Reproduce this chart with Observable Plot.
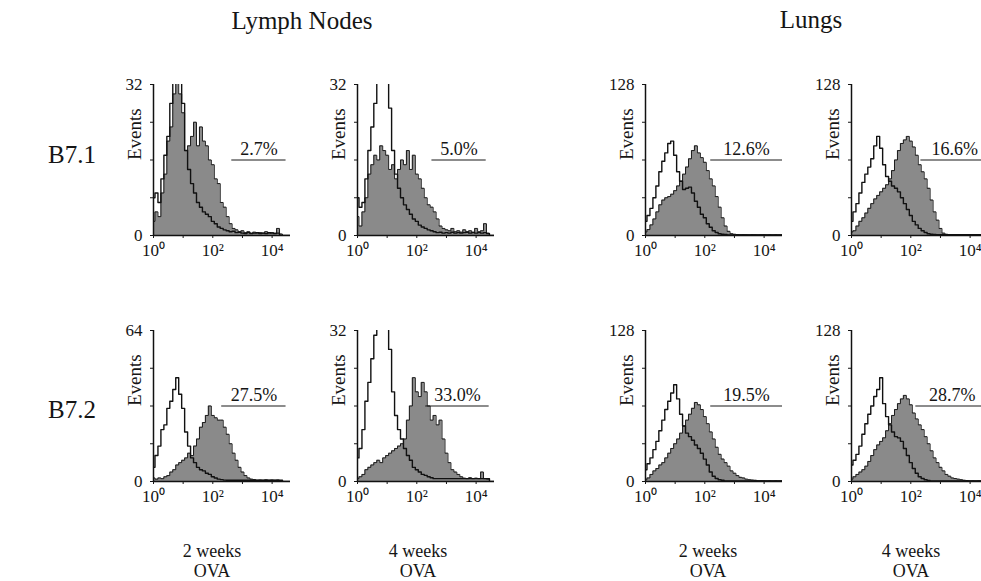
<!DOCTYPE html>
<html><head><meta charset="utf-8">
<script src="https://cdn.jsdelivr.net/npm/d3@7"></script>
<script src="https://cdn.jsdelivr.net/npm/@observablehq/plot@0.6"></script>
<style>
html,body{margin:0;padding:0;background:#fff;overflow:hidden}
#fig{position:relative;width:981px;height:581px;overflow:hidden;font-family:"Liberation Serif","Times New Roman",serif;color:#151515}
.lbl{position:absolute;white-space:nowrap;line-height:1}
.ctr{transform:translateX(-50%);text-align:center}
.panel{position:absolute}
</style></head><body><div id="fig"></div>
<script>
// ---------- DATA ----------
// fluorescence bins (log10 of intensity), 0.1-decade steps
const logBins = [0.0,0.1,0.2,0.3,0.4,0.5,0.6,0.7,0.8,0.9,1.0,1.1,1.2,1.3,1.4,1.5,1.6,1.7,1.8,1.9,2.0,2.1,2.2,2.3,2.4,2.5,2.6,2.7,2.8,2.9,3.0,3.1,3.2,3.3,3.4,3.5,3.6,3.7,3.8,3.9,4.0,4.1,4.2,4.3,4.4,4.5,4.6];

const columnTitles = ["Lymph Nodes", "Lungs"];
const rowTitles = ["B7.1", "B7.2"];
const columnLabels = [["2 weeks","OVA"],["4 weeks","OVA"],["2 weeks","OVA"],["4 weeks","OVA"]];
const yAxisLabel = "Events";

// panel order: B7.1 LN 2w, LN 4w, Lung 2w, Lung 4w, B7.2 LN 2w, LN 4w, Lung 2w, Lung 4w
const yMax = [32, 32, 128, 128, 64, 32, 128, 128];
const percentLabels = ["2.7%", "5.0%", "12.6%", "16.6%", "27.5%", "33.0%", "19.5%", "28.7%"];
const gateStartLog = [2.64, 2.51, 2.2, 2.34, 2.3, 2.3, 2.2, 2.17];
const gateEndLog   = [4.47, 4.34, 4.62, 4.62, 4.47, 4.44, 4.62, 4.62];

// stained (grey filled) histograms
const stainedLN2wB71 = [3,5,4,9,13,20,23,30,34,30, 26,18,19,21,24,19,23,20,19,16, 15,12,11,7,6,4,2.5,1.5,1.2,0.8, 1,0.6,0.8,0.5,0.7,0.5,0.6,0.5,0.8,0.5, 0.6,0.5,1.5,0.3,0,0,0];
const stainedLN4wB71 = [4,2,5,8,13,15,17,16,19,18, 17,14,15,12,14,16,15,18,14,17, 13,12,10,8,6.5,6,5,3.5,2,1.5, 1.2,1,1.5,0.8,1,0.7,1.2,0.8,1,0.7, 1.5,0.8,1,2.5,0.5,0,0];
const stainedLu2wB71 = [3,5,9,14,20,26,30,32,33,35, 38,42,46,52,58,65,72,76,70,66, 62,55,48,42,33,24,15,8,3.5,1.5, 1,0.8,0.6,0.7,0.6,0.5,0.7,0.6,0.5,0.6, 0.7,0.5,0.6,0.5,0.6,0.5,0.6];
const stainedLu4wB71 = [3,4,8,12,15,19,23,27,31,34, 37,40,43,48,55,64,72,78,81,84, 80,75,68,60,54,48,40,30,20,13, 6,2,1,0.6,0.7,0.6,0.5,0.6,0.7,0.6, 0.5,0.6,0.6,0.5,0.6,0.5,0.6];
const stainedLN2wB72 = [1.5,1,1.5,1.2,2,2.5,4,5,7,8, 9,10,12,11,15,18,23,25,28,32, 28,27,26,26,23,20,16,12,9,6, 4,2.5,1.5,1,0.8,0.5,0.6,0.5,0.7,0.5, 0.6,0.5,0.6,0.4,0,0,0];
const stainedLN4wB72 = [0.6,1,1.5,2.5,3,3.5,4,4.5,4,5, 5.5,6,6.5,7,7.5,8,9,13,16,22, 19,18,21,19,16,13,14,12,13,9, 6,4,2.5,2,1.5,1,0.7,0.6,0.8,0.6, 0.7,0.6,2,0.6,0.5,0,0];
const stainedLu2wB72 = [1.5,3,6,9,11,14,16,20,24,28, 32,36,41,47,52,57,62,67,65,61, 55,49,42,36,29,23,19,16,13,9, 7,5,3.5,3,2,1.5,1.2,1,0.6,0.7, 0.6,0.5,0.6,0.5,0.6,0.5,0.6];
const stainedLu4wB72 = [2,4,6,8,10,13,17,22,27,31, 34,37,43,49,56,61,66,70,73,70, 65,58,53,48,44,38,32,26,20,16, 12,9,6,4.5,3,2.5,2,1.5,1,0.8, 0.5,0.6,0.5,0.6,0.5,0.6,0.5];

// isotype control (open outline) histograms
const controlLN2wB71 = [8,9,7,12,17,21,28,33,34,33, 28,18,14,11,9,7,6,5,4.5,4, 3,2.5,1.8,1.5,1.2,1,0.8,0.9,0.6,0.7, 0.5,0.4,0.6,0.4,0.5,0.6,0.4,0.5,0.4,0.6, 0.5,0.4,0.5,0,0,0,0];
const controlLN4wB71 = [8,6,7,12,18,23,28,33,34,34, 33,27,18,13,10,8,6.5,5.5,4.5,3.5, 3,2.2,1.8,1.5,1.2,1,0.8,0.6,0.7,0.5, 0.6,0.5,0.7,0.5,0.6,0.5,0.6,0.7,0.5,0.6, 0.5,0.6,0.5,0.6,0.4,0,0];
const controlLu2wB71 = [12,17,23,32,42,54,63,70,78,80, 68,54,46,39,40,41,36,29,24,18, 15,10,7,4,2.5,1.5,1,0.8,0.5,0.5, 0.5,0.5,0.5,0.5,0.5,0.5,0.5,0.5,0.5,0.5, 0.5,0.5,0.5,0.5,0.5,0.5,0.5];
const controlLu4wB71 = [12,20,27,36,45,52,58,65,76,84, 74,60,50,46,42,40,37,32,27,22, 17,12,9,6,4,2.5,1.5,1,0.8,0.6, 0.6,0.6,0.6,0.6,0.6,0.6,0.6,0.6,0.6,0.6, 0.6,0.6,0.6,0.6,0.6,0.6,0.6];
const controlLN2wB72 = [6,11,15,22,24,31,34,39,44,37, 31,21,15,10,8,6,5,4.5,3.5,3, 2,1.5,1,0.8,0.6,0.5,0.5,0.5,0.5,0.5, 0.5,0.5,0.5,0.5,0.5,0.5,0.5,0.5,0.5,0.5, 0.5,0.5,0.5,0.5,0,0,0];
const controlLN4wB72 = [5,7,11,17,21,26,31,34,35,35, 34,28,19,14,11,9,7,5.5,4.5,3, 2.5,2,1.5,1.3,1,0.8,0.6,0.6,0.6,0.6, 0.6,0.6,0.6,0.6,0.6,0.6,0.6,0.6,0.6,0.6, 0.6,0.6,0.6,0.6,0.6,0,0];
const controlLu2wB72 = [10,15,20,27,34,43,52,61,68,75, 82,70,57,47,41,38,35,31,28,24, 19,14,8,4.5,2.5,1.5,1,0.5,0.5,0.5, 0.5,0.5,0.5,0.5,0.5,0.5,0.5,0.5,0.5,0.5, 0.5,0.5,0.5,0.5,0.5,0.5,0.5];
const controlLu4wB72 = [14,18,23,30,40,49,57,64,72,78, 88,66,55,48,42,38,37,34,28,22, 16,11,7,4,2.5,1.5,0.8,0.5,0.5,0.5, 0.5,0.5,0.5,0.5,0.5,0.5,0.5,0.5,0.5,0.5, 0.5,0.5,0.5,0.5,0.5,0.5,0.5];

const stainedSeries = [stainedLN2wB71, stainedLN4wB71, stainedLu2wB71, stainedLu4wB71, stainedLN2wB72, stainedLN4wB72, stainedLu2wB72, stainedLu4wB72];
const controlSeries = [controlLN2wB71, controlLN4wB71, controlLu2wB71, controlLu4wB71, controlLN2wB72, controlLN4wB72, controlLu2wB72, controlLu4wB72];
const xTickValues = [1, 10, 100, 1000, 10000];
const xTickText = {1: "10\u2070", 100: "10\u00B2", 10000: "10\u2074"};

// ---------- LAYOUT ----------
const FONT = '"Liberation Serif","Times New Roman",serif';
const axisX0 = [153, 357, 645, 851, 153, 357, 645, 851];
const rowTop = [84, 84, 84, 84, 330, 330, 330, 330];
const M = {left: 50, right: 8, top: 14, bottom: 32};
const PW = 137, PH = 151;

const fig = document.getElementById("fig");

function addLabel(text, x, y, size, centered) {
  const d = document.createElement("div");
  d.className = "lbl" + (centered ? " ctr" : "");
  d.textContent = text;
  d.style.left = x + "px";
  d.style.top = y + "px";
  d.style.fontSize = size + "px";
  fig.appendChild(d);
}

addLabel(columnTitles[0], 302, 8, 25, true);
addLabel(columnTitles[1], 811, 7, 25, true);
addLabel(rowTitles[0], 48, 142, 25, false);
addLabel(rowTitles[1], 48, 397, 25, false);
const colCenters = [212, 418, 708, 911];
columnLabels.forEach((lines, j) => {
  addLabel(lines[0], colCenters[j], 542, 18, true);
  addLabel(lines[1], colCenters[j], 562, 18, true);
});

function makePanel(i) {
  const m = yMax[i];
  const rows = logBins.map((L, k) => ({x: Math.pow(10, L), stained: stainedSeries[i][k], control: controlSeries[i][k]}));
  const gs = Math.pow(10, gateStartLog[i]), ge = Math.pow(10, gateEndLog[i]);
  const gate = [{y: m / 2, x1: gs, x2: ge, xm: Math.sqrt(gs * ge), label: percentLabels[i]}];
  return Plot.plot({
    width: M.left + PW + M.right,
    height: M.top + PH + M.bottom,
    marginLeft: M.left, marginRight: M.right, marginTop: M.top, marginBottom: M.bottom,
    style: {fontFamily: FONT, fontSize: "16px", color: "#151515", background: "transparent", overflow: "visible"},
    x: {type: "log", domain: [1, Math.pow(10, 4.62)], label: null},
    y: {domain: [0, m], label: null},
    marks: [
      Plot.areaY(rows, {x: "x", y: "stained", curve: "step", fill: "#8a8a8a", clip: true}),
      Plot.lineY(rows, {x: "x", y: "stained", curve: "step", stroke: "#1c1c1c", strokeWidth: 1, clip: true}),
      Plot.lineY(rows, {x: "x", y: "control", curve: "step", stroke: "#111", strokeWidth: 1.4, clip: true}),
      Plot.ruleX([1], {stroke: "#111", strokeWidth: 1.5}),
      Plot.ruleY([0], {stroke: "#111", strokeWidth: 1.5}),
      Plot.axisY({ticks: [0, m / 4, m / 2, 3 * m / 4, m], tickFormat: d => (d === 0 || d === m) ? String(d) : "", tickSize: 3, tickPadding: 8, label: null, fontSize: 17}),
      Plot.axisX({ticks: xTickValues, tickFormat: d => xTickText[d] ?? "", tickSize: 3, tickPadding: 5, label: null, fontSize: 17}),
      Plot.text([yAxisLabel], {frameAnchor: "left", rotate: -90, dx: -19, fontSize: 19}),
      Plot.ruleY(gate, {y: "y", x1: "x1", x2: "x2", stroke: "#1a1a1a", strokeWidth: 1.2}),
      Plot.text(gate, {x: "xm", y: "y", text: "label", dy: -5, lineAnchor: "bottom", fontSize: 18})
    ]
  });
}

for (let i = 0; i < 8; i++) {
  const svg = makePanel(i);
  svg.classList.add("panel");
  svg.style.left = (axisX0[i] - M.left) + "px";
  svg.style.top = (rowTop[i] - M.top) + "px";
  fig.appendChild(svg);
}
</script>
</body></html>
